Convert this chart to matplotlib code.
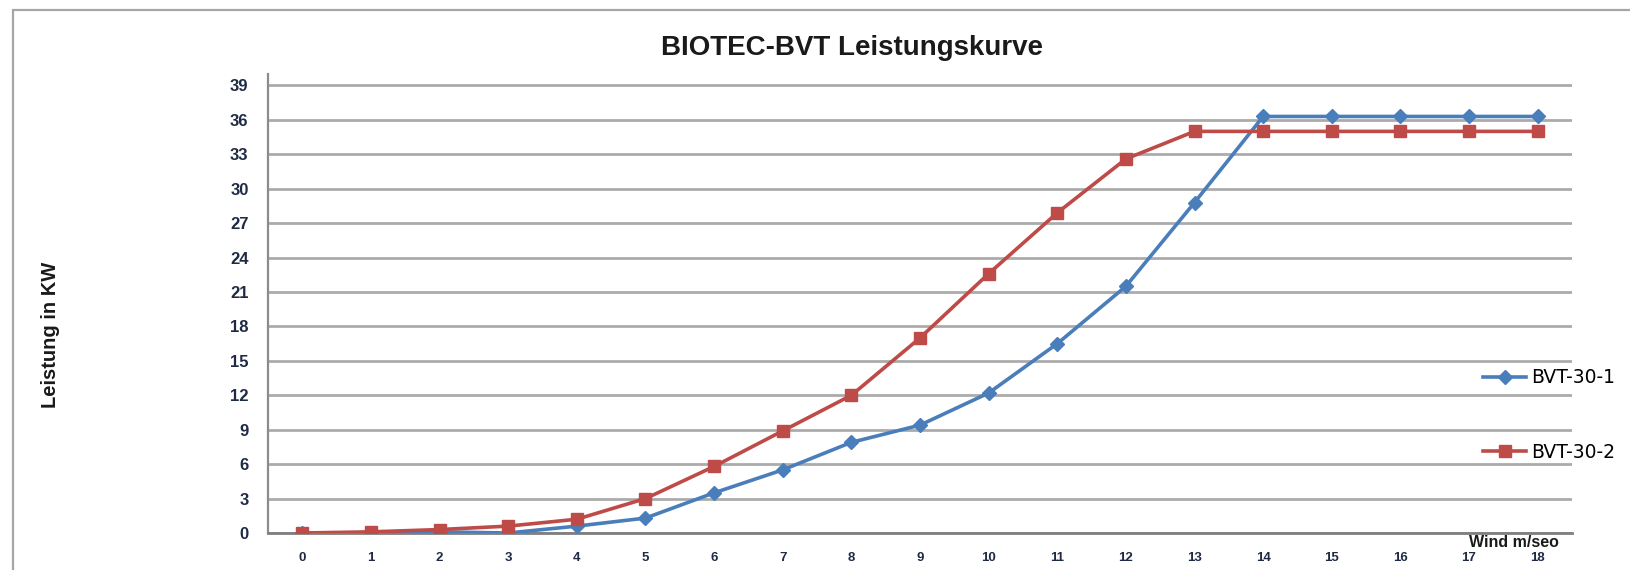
import matplotlib
matplotlib.use("Agg")
import matplotlib.pyplot as plt
from matplotlib.patches import Rectangle

plt.rcParams['font.family'] = ['Liberation Sans', 'DejaVu Sans']

wind = list(range(19))
x_labels = [str(w) for w in wind]
bvt_30_1 = [0, 0, 0.1, 0, 0.6, 1.3, 3.5, 5.5, 7.9, 9.4, 12.2, 16.5, 21.5, 28.8,
            36.3, 36.3, 36.3, 36.3, 36.3]
bvt_30_2 = [0, 0.1, 0.3, 0.6, 1.2, 3.0, 5.8, 8.9, 12.0, 17.0, 22.6, 27.9, 32.6, 35.0,
            35.0, 35.0, 35.0, 35.0, 35.0]
y_ticks = list(range(0, 40, 3))
series_names = ["BVT-30-1", "BVT-30-2"]
title = "BIOTEC-BVT Leistungskurve"
y_label = "Leistung in KW"
x_label = "Wind m/seo"

W, H = 1630, 570
fig = plt.figure(figsize=(W / 100, H / 100), dpi=100)
fig.patch.set_facecolor("white")

# outer chart-area border
fig.patches.append(Rectangle((12.5 / W, -0.05), 1.2, 1 - 10 / H + 0.05,
                             transform=fig.transFigure, fill=False,
                             edgecolor="#a6a6a6", linewidth=1.6))

ax = fig.add_axes([268 / W, 37 / H, (1572 - 268) / W, (533 - 74) / H])
blue = "#4A7EBB"
red = "#BE4B48"
l1, = ax.plot(wind, bvt_30_1, color=blue, linewidth=2.6, marker="D",
              markersize=7, label=series_names[0], zorder=3)
l2, = ax.plot(wind, bvt_30_2, color=red, linewidth=2.6, marker="s",
              markersize=9, label=series_names[1], zorder=4)

ax.set_xlim(-0.5, 18.5)
ax.set_ylim(0, 40)
ax.set_yticks(y_ticks)
ax.set_yticklabels([str(v) for v in y_ticks], fontsize=12, fontweight="bold",
                   color="#1f2a44")
ax.set_xticks(wind)
ax.set_xticklabels(x_labels, fontsize=9.5, fontweight="bold", color="#1f2a44")
ax.tick_params(axis="y", length=0, pad=14)
ax.tick_params(axis="x", length=0, pad=14)
ax.grid(axis="y", color="#ababab", linewidth=2)
ax.set_axisbelow(True)
for s in ["top", "right"]:
    ax.spines[s].set_visible(False)
ax.spines["left"].set_color("#8c8c8c")
ax.spines["left"].set_linewidth(1.6)
ax.spines["bottom"].set_color("#7f7f7f")
ax.spines["bottom"].set_linewidth(2)

fig.text(852 / W, 1 - 48 / H, title, ha="center", va="center", fontsize=20,
         fontweight="bold", color="#1a1a1a")
fig.text(51 / W, 1 - 335 / H, y_label, ha="center", va="center", rotation=90,
         fontsize=14.5, fontweight="bold", color="#1a1a1a")
fig.text(1514 / W, 1 - 547 / H, x_label, ha="center", va="baseline", fontsize=11.5,
         fontweight="bold", color="#1a1a1a")

fig.legend(handles=[l1, l2], loc="center left",
           bbox_to_anchor=(1483 / W, 1 - 415 / H), frameon=False,
           prop={"family": "DejaVu Sans", "size": 13.5},
           labelspacing=2.95, handlelength=2.3, handletextpad=0.25,
           borderpad=0, borderaxespad=0)

fig.savefig("out.png", dpi=100)
